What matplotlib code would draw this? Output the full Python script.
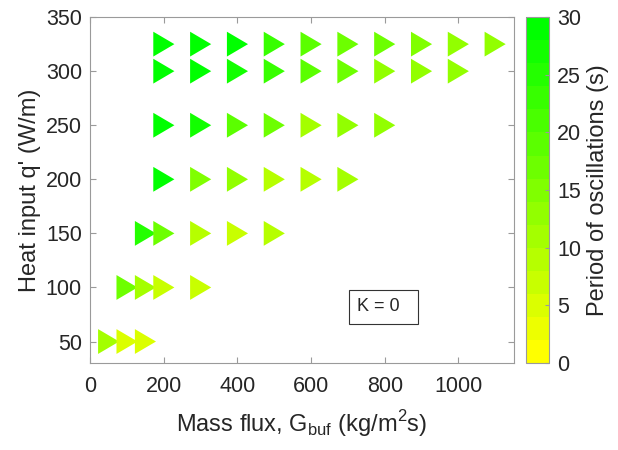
import numpy as np
import matplotlib.pyplot as plt
from matplotlib.colors import ListedColormap
from matplotlib.patches import Rectangle

# datos
G_325 = [200, 300, 400, 500, 600, 700, 800, 900, 1000, 1100]
T_325 = [29, 29, 29, 23, 19, 17, 17, 15, 12, 12]
G_300 = [200, 300, 400, 500, 600, 700, 800, 900, 1000]
T_300 = [29, 29, 27, 23, 19, 17, 12, 12, 12]
G_250 = [200, 300, 400, 500, 600, 700, 800]
T_250 = [29, 27, 19, 17, 11, 13, 13]
G_200 = [200, 300, 400, 500, 600, 700]
T_200 = [29, 15, 12, 9, 9, 11]
G_150 = [150, 200, 300, 400, 500]
T_150 = [25, 17, 9, 7, 9]
G_100 = [100, 150, 200, 300]
T_100 = [17, 11, 7, 7]
G_50 = [50, 100, 150]
T_50 = [11, 5, 4]

rows = [(325, G_325, T_325), (300, G_300, T_300), (250, G_250, T_250),
        (200, G_200, T_200), (150, G_150, T_150), (100, G_100, T_100),
        (50, G_50, T_50)]

G = np.concatenate([r[1] for r in rows])
Q = np.concatenate([[r[0]] * len(r[1]) for r in rows])
T = np.concatenate([r[2] for r in rows])

plt.rcParams['font.family'] = ['Liberation Sans', 'DejaVu Sans']
plt.rcParams['font.size'] = 15.5

# mapa de colores amarillo -> verde en 15 niveles
r = np.linspace(1, 0, 15)
cmap = ListedColormap(np.column_stack([r, np.ones(15), np.zeros(15)]))

fig = plt.figure(figsize=(6.18, 4.5), dpi=100)
ax = fig.add_axes([0.146, 0.193, 0.685, 0.769])
cax = fig.add_axes([0.851, 0.193, 0.037, 0.769])

tri = [(-0.85, -1), (0.85, 0), (-0.85, 1)]
sc = ax.scatter(G, Q, c=T, cmap=cmap, vmin=0, vmax=30, marker=tri, s=320,
                linewidths=0)

ax.set_xlim(0, 1150)
ax.set_ylim(30, 350)
ax.set_xticks([0, 200, 400, 600, 800, 1000])
ax.set_yticks([50, 100, 150, 200, 250, 300, 350])
ax.tick_params(direction='in', top=True, right=True, colors='#9a9a9a',
               labelcolor='#262626', length=4)
ax.tick_params(axis='x', pad=9)
ax.tick_params(axis='y', pad=6)
for s in ax.spines.values():
    s.set_color('#9a9a9a')
ax.set_xlabel('Mass flux, G$_{\\mathregular{buf}}$ (kg/m$^{\\mathregular{2}}$s)',
              color='#262626', fontsize=17, labelpad=8)
ax.set_ylabel("Heat input q' (W/m)", color='#262626', fontsize=17, labelpad=3)

# cuadro de texto K = 0
ax.add_patch(Rectangle((0.612, 0.1135), 0.163, 0.0985, transform=ax.transAxes,
                       fc='white', ec='#333333', lw=0.8, zorder=3))
ax.text(0.6305, 0.1626, 'K = 0', transform=ax.transAxes, ha='left', va='center',
        fontsize=13, color='#262626', zorder=4)

cb = fig.colorbar(sc, cax=cax)
cb.set_ticks([0, 5, 10, 15, 20, 25, 30])
cb.outline.set_edgecolor('#9a9a9a')
cax.tick_params(direction='in', colors='#9a9a9a', labelcolor='#262626', length=3, pad=6)
cb.set_label('Period of oscillations (s)', color='#262626', fontsize=17, labelpad=4)

fig.savefig('out.png', dpi=100)
